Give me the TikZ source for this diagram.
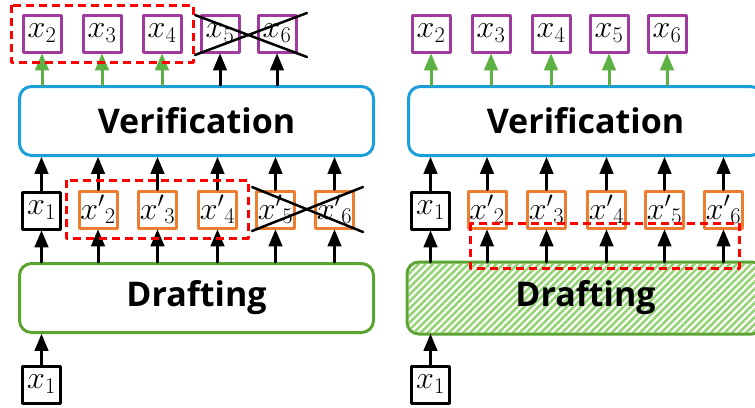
\documentclass[tikz,border=0pt]{standalone}
\usepackage{fix-cm}
\usepackage{amsmath}
\usepackage{fontspec}
\newfontfamily\stagefont{Open Sans}
\usepackage{tikz}
\usetikzlibrary{arrows,patterns.meta}
\definecolor{tokpurple}{RGB}{160,58,156}
\definecolor{tokorange}{RGB}{237,125,49}
\definecolor{verblue}{RGB}{26,159,219}
\definecolor{draftgreen}{RGB}{90,165,50}
\definecolor{okgreen}{RGB}{93,176,67}
\definecolor{hatchgreen}{RGB}{150,212,118}
\begin{document}
\begin{tikzpicture}[line cap=round,line join=round,>=triangle 45,x=1pt,y=-1pt,
  tok/.style={draw,line width=3pt,minimum width=38pt,minimum height=37pt,inner sep=0pt,fill=white,font=\fontsize{32}{32}\selectfont},
  outtok/.style={tok,draw=tokpurple},
  drafttok/.style={tok,draw=tokorange},
  intok/.style={tok,draw=black},
  stagetext/.style={font=\stagefont\bfseries\fontsize{34}{34}\selectfont},
  stage/.style={draw,line width=3pt,rounded corners=12pt,minimum width=354pt,minimum height=69pt,stagetext},
  up/.style={->,line width=3pt},
  okup/.style={up,color=okgreen},
  sel/.style={draw=red,line width=3pt,dash pattern=on 8pt off 5pt,line cap=butt},
  cross/.style={line width=2.5pt}]
\clip(0,0) rectangle (755,407);
% left: drafting then verification
\node[stage,draw=draftgreen] (drl) at (196.5,298) {Drafting};
\node[stage,draw=verblue] (vel) at (196.5,121) {Verification};
\node[intok] (inl) at (41.5,384.5) {$x_1$};
\node[intok] (d1l) at (41.5,210.5) {$x_1$};
\node[drafttok] (d2l) at (98,209.5) {${x'}_2$};
\node[drafttok] (d3l) at (157.5,209.5) {${x'}_3$};
\node[drafttok] (d4l) at (217.5,209.5) {${x'}_4$};
\node[drafttok] (d5l) at (275.5,209.5) {${x'}_5$};
\node[drafttok] (d6l) at (334.5,209.5) {${x'}_6$};
\node[outtok] (o2l) at (42,33.5) {$x_2$};
\node[outtok] (o3l) at (102,33.5) {$x_3$};
\node[outtok] (o4l) at (162,33.5) {$x_4$};
\node[outtok] (o5l) at (220,33.5) {$x_5$};
\node[outtok] (o6l) at (277,33.5) {$x_6$};
\draw[up] (inl.north) -- (inl.north |- drl.south);
\draw[up] (d1l.north |- drl.north) -- (d1l.south);
\draw[up] (d2l.north |- drl.north) -- (d2l.south);
\draw[up] (d3l.north |- drl.north) -- (d3l.south);
\draw[up] (d4l.north |- drl.north) -- (d4l.south);
\draw[up] (d5l.north |- drl.north) -- (d5l.south);
\draw[up] (d6l.north |- drl.north) -- (d6l.south);
\draw[up] (d1l.north) -- (d1l.north |- vel.south);
\draw[up] (d2l.north) -- (d2l.north |- vel.south);
\draw[up] (d3l.north) -- (d3l.north |- vel.south);
\draw[up] (d4l.north) -- (d4l.north |- vel.south);
\draw[up] (d5l.north) -- (d5l.north |- vel.south);
\draw[up] (d6l.north) -- (d6l.north |- vel.south);
\draw[okup] (o2l.south |- vel.north) -- (o2l.south);
\draw[okup] (o3l.south |- vel.north) -- (o3l.south);
\draw[okup] (o4l.south |- vel.north) -- (o4l.south);
\draw[up] (o5l.south |- vel.north) -- (o5l.south);
\draw[up] (o6l.south |- vel.north) -- (o6l.south);
\draw[cross] (195,15) -- (307,57);
\draw[cross] (195,55) -- (307,13);
\draw[cross] (252,187) -- (363,232);
\draw[cross] (252,231) -- (363,187);
\draw[sel] (11,5) rectangle (193,62);
\draw[sel] (66,180) rectangle (248,238);
% right: same, all drafts kept
\node[stage,draw=none,fill=white,postaction={pattern={Lines[angle=45,distance=5pt,line width=2.6pt]},pattern color=hatchgreen}] (drr) at (585.5,298) {};
\draw[draftgreen,line width=3pt,rounded corners=12pt] (drr.south west) rectangle (drr.north east);
\node[stagetext] (drt) at (drr.center) {Drafting};
\node[stage,draw=verblue] (ver) at (585.5,121) {Verification};
\node[intok] (inr) at (430.5,384.5) {$x_1$};
\node[intok] (d1r) at (430.5,210.5) {$x_1$};
\node[drafttok] (d2r) at (487,209.5) {${x'}_2$};
\node[drafttok] (d3r) at (546.5,209.5) {${x'}_3$};
\node[drafttok] (d4r) at (606.5,209.5) {${x'}_4$};
\node[drafttok] (d5r) at (664.5,209.5) {${x'}_5$};
\node[drafttok] (d6r) at (723.5,209.5) {${x'}_6$};
\node[outtok] (o2r) at (431,33.5) {$x_2$};
\node[outtok] (o3r) at (491,33.5) {$x_3$};
\node[outtok] (o4r) at (551,33.5) {$x_4$};
\node[outtok] (o5r) at (609,33.5) {$x_5$};
\node[outtok] (o6r) at (667,33.5) {$x_6$};
\draw[up] (inr.north) -- (inr.north |- drr.south);
\draw[up] (d1r.north |- drr.north) -- (d1r.south);
\draw[up] (d2r.north |- drr.north) -- (d2r.south);
\draw[up] (d3r.north |- drr.north) -- (d3r.south);
\draw[up] (d4r.north |- drr.north) -- (d4r.south);
\draw[up] (d5r.north |- drr.north) -- (d5r.south);
\draw[up] (d6r.north |- drr.north) -- (d6r.south);
\draw[up] (d1r.north) -- (d1r.north |- ver.south);
\draw[up] (d2r.north) -- (d2r.north |- ver.south);
\draw[up] (d3r.north) -- (d3r.north |- ver.south);
\draw[up] (d4r.north) -- (d4r.north |- ver.south);
\draw[up] (d5r.north) -- (d5r.north |- ver.south);
\draw[up] (d6r.north) -- (d6r.north |- ver.south);
\draw[okup] (o2r.south |- ver.north) -- (o2r.south);
\draw[okup] (o3r.south |- ver.north) -- (o3r.south);
\draw[okup] (o4r.south |- ver.north) -- (o4r.south);
\draw[okup] (o5r.south |- ver.north) -- (o5r.south);
\draw[okup] (o6r.south |- ver.north) -- (o6r.south);
\draw[sel] (470,223) rectangle (739,268);
\end{tikzpicture}
\end{document}
